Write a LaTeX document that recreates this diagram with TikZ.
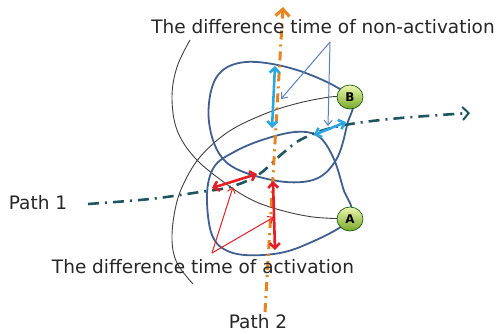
\documentclass[tikz,border=0pt]{standalone}
\usepackage{fontspec}
\setmainfont{DejaVu Sans}
\usetikzlibrary{arrows.meta, shapes.geometric}

\definecolor{loopblue}{HTML}{3F5F8F}
\definecolor{skyblue}{HTML}{2AA6E0}
\definecolor{pointblue}{HTML}{5A80C0}
\definecolor{pathteal}{HTML}{1E5560}
\definecolor{pathorange}{HTML}{E8841E}
\definecolor{markred}{HTML}{E51E25}
\definecolor{balllight}{HTML}{EEF7B0}
\definecolor{ballmid}{HTML}{A8D040}
\definecolor{balldark}{HTML}{78A828}

\pgfdeclarelayer{lines}
\pgfsetlayers{lines,main}

\begin{document}
\begin{tikzpicture}[x=1pt, y=-1pt,
    loopline/.style={draw=loopblue, line width=1.8pt},
    guide/.style={draw=black!75, line width=0.9pt},
    gap/.style={line width=2.6pt, {Straight Barb[length=5pt,width=10pt]}-{Straight Barb[length=5pt,width=10pt]}},
    pointer/.style={line width=1pt, -{Straight Barb[length=5pt,width=8pt]}},
    ballnode/.style={ellipse, top color=balllight, middle color=ballmid, bottom color=balldark,
        draw=green!30!black, line width=0.6pt, inner sep=0pt, minimum width=26pt, minimum height=24pt,
        font=\bfseries\fontsize{12}{12}\selectfont},
    caption/.style={font=\fontsize{18.5}{20}\selectfont, text=black!85}]

        \useasboundingbox (0,0) rectangle (503,334);

        % Nodes A and B
        \node[ballnode] (B) at (350,97) {B};
        \node[ballnode] (A) at (350,219) {A};

        % Labels
        \node[caption] (nonact) at (323,27) {The difference time of non-activation};
        \node[caption] (act) at (203,267) {The difference time of activation};
        \node[caption] (p1) at (38,203) {Path 1};
        \node[caption] (p2) at (258,322) {Path 2};

        \begin{pgfonlayer}{lines}

        % Guide curves
        \draw[guide] plot[smooth, tension=0.6] coordinates {(190,40) (177,67) (172,97) (177,130)
            (195,158) (225,183) (252,200) (280,210) (313,217) (A)};
        \draw[guide] plot[smooth, tension=0.6] coordinates {(193,284) (177,263) (172,240) (175,210)
            (183,185) (200,157) (228,132) (262,115) (295,104) (330,97) (B)};

        % Loop through B
        \draw[loopline] plot[smooth cycle, tension=0.6] coordinates {(B) (300,71) (246,62) (216,78)
            (209,122) (226,162) (272,180) (313,180) (336,160) (347,125)};

        % Loop through A
        \draw[loopline] plot[smooth cycle, tension=0.6] coordinates {(A) (300,247) (263,255) (230,252)
            (212,235) (207,195) (214,167) (234,152) (262,140) (295,132) (318,136) (333,157) (343,188)};

        % Path 1
        \coordinate (p1s) at (88,204);
        \coordinate (p1e) at (470,113);
        \draw[pathteal, line width=2.6pt, dash pattern=on 11pt off 6pt on 2pt off 6pt,
            -{Straight Barb[length=6pt,width=13pt,line width=2pt]}]
            plot[smooth, tension=0.6] coordinates {(p1s) (150,199) (200,192) (230,187) (258,175)
            (283,153) (302,139) (335,127) (390,119) (p1e)};

        % Path 2
        \coordinate (p2s) at (265,312);
        \coordinate (p2e) at (283,7);
        \draw[pathorange, line width=3pt, dash pattern=on 9pt off 5pt on 2pt off 5pt,
            -{Straight Barb[length=7pt,width=14pt]}] (p2s) -- (p2e);

        % Non-activation gaps
        \coordinate (bu) at (275,66);
        \coordinate (bd) at (272,128);
        \coordinate (bl) at (314,135);
        \coordinate (br) at (346,122);
        \draw[skyblue, gap] (bu) -- (bd);
        \draw[skyblue, gap] (bl) -- (br);

        \coordinate (bp) at (330,42);
        \draw[pointblue, pointer] (bp) -- (281,99);
        \draw[pointblue, pointer] (bp) -- (328,126);

        % Activation gaps
        \coordinate (ru) at (273,181);
        \coordinate (rd) at (275,250);
        \coordinate (rl) at (212,188);
        \coordinate (rr) at (257,174);
        \draw[markred, gap] (ru) -- (rd);
        \draw[markred, gap] (rl) -- (rr);

        \coordinate (rp) at (212,253);
        \draw[markred, pointer] (rp) -- (233,187);
        \draw[markred, pointer] (rp) -- (274,217);

        \end{pgfonlayer}

\end{tikzpicture}
\end{document}
